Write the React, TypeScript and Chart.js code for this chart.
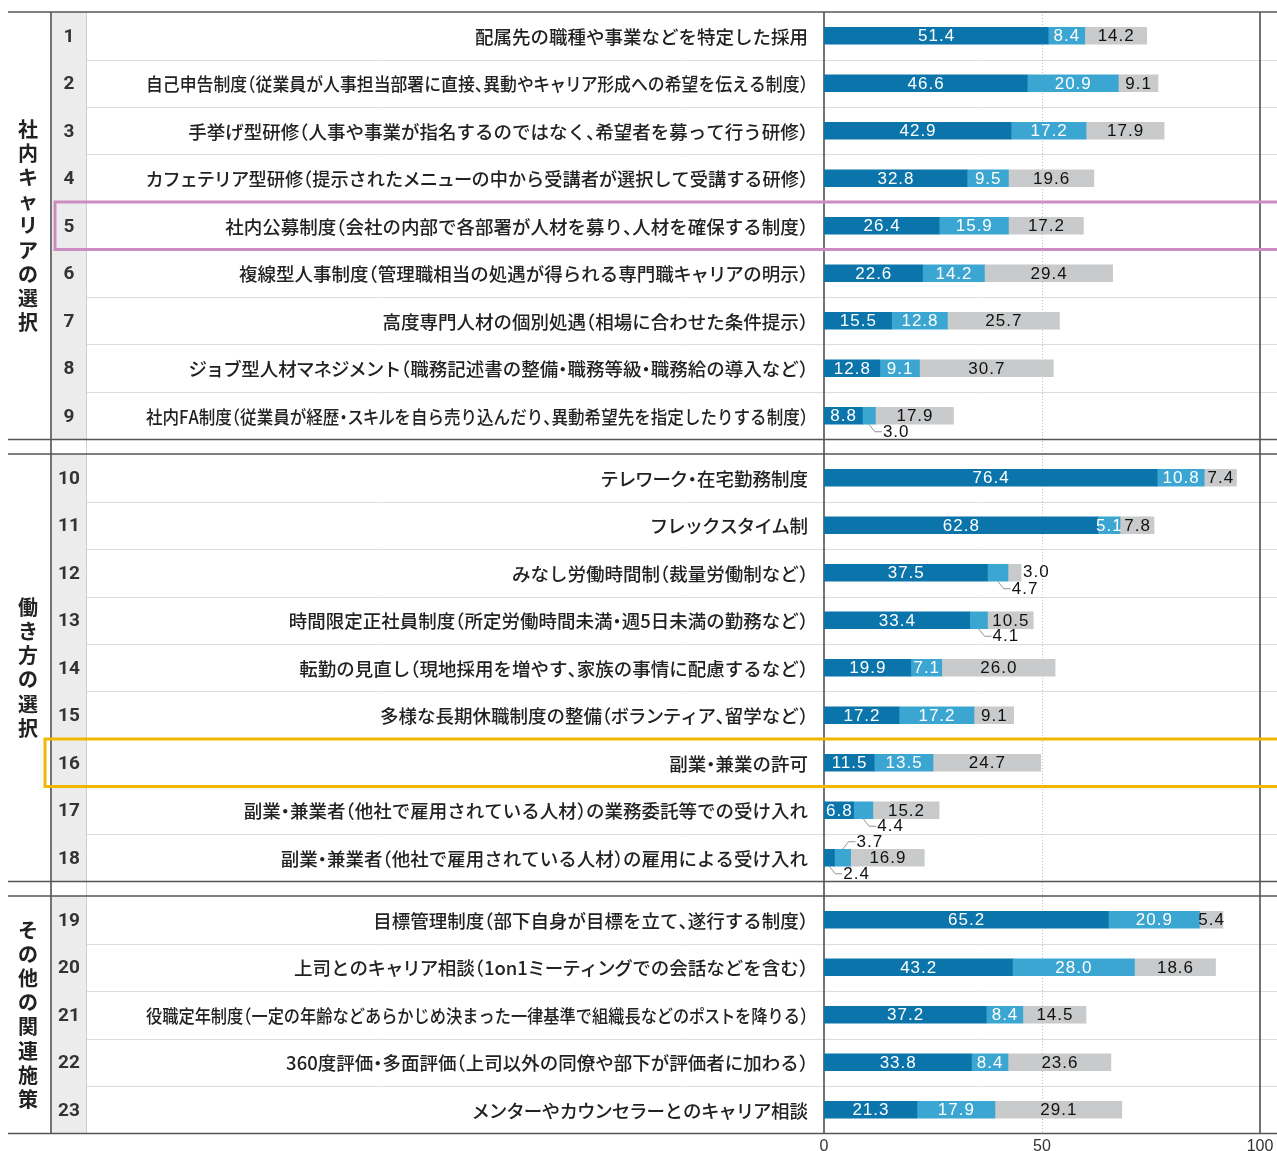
import React, { useEffect, useRef } from 'react';
import { Chart, registerables } from 'chart.js';

Chart.register(...registerables);

// ---------------- DATA ----------------
const groupNames = ['社内キャリアの選択', '働き方の選択', 'その他の関連施策'];
const groupSizes = [9, 9, 5];

const rowLabels = [
  '配属先の職種や事業などを特定した採用',
  '自己申告制度（従業員が人事担当部署に直接、異動やキャリア形成への希望を伝える制度）',
  '手挙げ型研修（人事や事業が指名するのではなく、希望者を募って行う研修）',
  'カフェテリア型研修（提示されたメニューの中から受講者が選択して受講する研修）',
  '社内公募制度（会社の内部で各部署が人材を募り、人材を確保する制度）',
  '複線型人事制度（管理職相当の処遇が得られる専門職キャリアの明示）',
  '高度専門人材の個別処遇（相場に合わせた条件提示）',
  'ジョブ型人材マネジメント（職務記述書の整備・職務等級・職務給の導入など）',
  '社内FA制度（従業員が経歴・スキルを自ら売り込んだり、異動希望先を指定したりする制度）',
  'テレワーク・在宅勤務制度',
  'フレックスタイム制',
  'みなし労働時間制（裁量労働制など）',
  '時間限定正社員制度（所定労働時間未満・週5日未満の勤務など）',
  '転勤の見直し（現地採用を増やす、家族の事情に配慮するなど）',
  '多様な長期休職制度の整備（ボランティア、留学など）',
  '副業・兼業の許可',
  '副業・兼業者（他社で雇用されている人材）の業務委託等での受け入れ',
  '副業・兼業者（他社で雇用されている人材）の雇用による受け入れ',
  '目標管理制度（部下自身が目標を立て、遂行する制度）',
  '上司とのキャリア相談（1on1ミーティングでの会話などを含む）',
  '役職定年制度（一定の年齢などあらかじめ決まった一律基準で組織長などのポストを降りる）',
  '360度評価・多面評価（上司以外の同僚や部下が評価者に加わる）',
  'メンターやカウンセラーとのキャリア相談',
];

const seriesDark = [51.4, 46.6, 42.9, 32.8, 26.4, 22.6, 15.5, 12.8, 8.8, 76.4, 62.8, 37.5, 33.4, 19.9, 17.2, 11.5, 6.8, 2.4, 65.2, 43.2, 37.2, 33.8, 21.3];
const seriesLight = [8.4, 20.9, 17.2, 9.5, 15.9, 14.2, 12.8, 9.1, 3.0, 10.8, 5.1, 4.7, 4.1, 7.1, 17.2, 13.5, 4.4, 3.7, 20.9, 28.0, 8.4, 8.4, 17.9];
const seriesGray = [14.2, 9.1, 17.9, 19.6, 17.2, 29.4, 25.7, 30.7, 17.9, 7.4, 7.8, 3.0, 10.5, 26.0, 9.1, 24.7, 15.2, 16.9, 5.4, 18.6, 14.5, 23.6, 29.1];

const xTicks = [0, 50, 100];

// labels of small segments drawn outside the bar (row number, series index, side)
const outsideLabels = [
  { row: 9, series: 1, side: 'below' },
  { row: 12, series: 1, side: 'below' },
  { row: 12, series: 2, side: 'right' },
  { row: 13, series: 1, side: 'below' },
  { row: 17, series: 1, side: 'below' },
  { row: 18, series: 0, side: 'below' },
  { row: 18, series: 1, side: 'above' },
];

const highlightRows = [5, 16];

// ---------------- LAYOUT / STYLE ----------------
const W = 1277;
const H = 1151;
const GROUP_GAP = 14.5 / 47.5; // extra gap between groups, in row units
const COLORS = ['#0b74aa', '#3ca6d2', '#c9cacb'];
const HIGHLIGHT = [
  { color: '#cd8cc1', left: 55 },
  { color: '#f2b705', left: 45 },
];

const rowGroup: number[] = [];
groupSizes.forEach((n, g) => {
  for (let k = 0; k < n; k++) rowGroup.push(g);
});
const rowPos = rowGroup.map((g, i) => i + g * GROUP_GAP);
const groupStart: number[] = [];
let acc = 0;
groupSizes.forEach((n) => {
  groupStart.push(acc);
  acc += n;
});

const LABEL_FONT = '"Noto Sans CJK JP", "Noto Sans", sans-serif';
const NUM_FONT = '"Liberation Sans", Arial, sans-serif';
const LABEL_SIZE = 18.5;
const LABEL_MAX_W = 662;
const KATA_FACTOR = 0.94;

// proportional (half-width) punctuation, like the print typesetting
const HALF_RIGHT = '（「';      // glyph sits in right half of the em box
const HALF_LEFT = '）」、。';   // glyph sits in left half
const HALF_MID = '・';          // glyph centred
const isKata = (ch: string) => /[\u30A1-\u30FA\u30FC]/.test(ch);

function drawLabel(ctx: CanvasRenderingContext2D, text: string, right: number, y: number) {
  const em = LABEL_SIZE;
  const chars = Array.from(text);
  const full = chars.map((ch) => ctx.measureText(ch).width);
  const adv = chars.map((ch, k) => {
    if (HALF_RIGHT.includes(ch) || HALF_LEFT.includes(ch) || HALF_MID.includes(ch)) return em * 0.5;
    if (isKata(ch)) return full[k] * KATA_FACTOR;
    return full[k];
  });
  const total = adv.reduce((a, b) => a + b, 0);
  const s = total > LABEL_MAX_W ? LABEL_MAX_W / total : 1;
  ctx.save();
  ctx.translate(right - total * s, y);
  ctx.scale(s, 1);
  ctx.textAlign = 'left';
  let x = 0;
  chars.forEach((ch, k) => {
    let off = 0;
    if (HALF_RIGHT.includes(ch)) off = -em * 0.5;
    else if (HALF_MID.includes(ch)) off = -em * 0.25;
    else if (isKata(ch)) off = -(full[k] - adv[k]) / 2;
    ctx.fillText(ch, x + off, 0);
    x += adv[k];
  });
  ctx.restore();
}

const tablePlugin = {
  id: 'tablePlugin',
  beforeDatasetsDraw(chart: any) {
    const ctx = chart.ctx;
    const xs = chart.scales.x;
    const ys = chart.scales.y;
    const area = chart.chartArea;
    const top = (i: number) => ys.getPixelForValue(rowPos[i] - 0.5);
    const bot = (i: number) => ys.getPixelForValue(rowPos[i] + 0.5);
    ctx.save();

    // number column background
    ctx.fillStyle = '#ececec';
    groupSizes.forEach((n, g) => {
      const s = groupStart[g];
      const e = s + n - 1;
      ctx.fillRect(52, top(s), 34, bot(e) - top(s));
    });

    // row separators
    ctx.strokeStyle = '#dcdcdc';
    ctx.lineWidth = 1;
    for (let i = 0; i < rowPos.length - 1; i++) {
      if (rowGroup[i] !== rowGroup[i + 1]) continue;
      const y = Math.round(bot(i)) + 0.5;
      ctx.beginPath();
      ctx.moveTo(86, y);
      ctx.lineTo(W, y);
      ctx.stroke();
    }

    // light line right of number column
    ctx.strokeStyle = '#cfcfcf';
    ctx.beginPath();
    ctx.moveTo(86.5, area.top);
    ctx.lineTo(86.5, area.bottom);
    ctx.stroke();

    // dotted mid line
    ctx.strokeStyle = '#bdbdbd';
    ctx.setLineDash([1, 2]);
    const x50 = Math.round(xs.getPixelForValue(50)) + 0.5;
    ctx.beginPath();
    ctx.moveTo(x50, area.top);
    ctx.lineTo(x50, area.bottom);
    ctx.stroke();
    ctx.setLineDash([]);

    // dark vertical lines
    ctx.strokeStyle = '#444';
    ctx.lineWidth = 1.5;
    [51, xs.getPixelForValue(0), xs.getPixelForValue(100)].forEach((x) => {
      ctx.beginPath();
      ctx.moveTo(x, area.top);
      ctx.lineTo(x, area.bottom);
      ctx.stroke();
    });

    // dark horizontal lines at group edges
    ctx.strokeStyle = '#555';
    ctx.lineWidth = 1.5;
    groupSizes.forEach((n, g) => {
      const s = groupStart[g];
      const e = s + n - 1;
      [top(s), bot(e)].forEach((y) => {
        ctx.beginPath();
        ctx.moveTo(8, y);
        ctx.lineTo(W, y);
        ctx.stroke();
      });
    });
    ctx.restore();
  },
  afterDatasetsDraw(chart: any) {
    const ctx = chart.ctx;
    const ys = chart.scales.y;
    const top = (i: number) => ys.getPixelForValue(rowPos[i] - 0.5);
    const bot = (i: number) => ys.getPixelForValue(rowPos[i] + 0.5);
    const mid = (i: number) => ys.getPixelForValue(rowPos[i]);
    ctx.save();

    // value labels
    ctx.font = `17px ${NUM_FONT}`;
    (ctx as any).letterSpacing = '1px';
    ctx.textBaseline = 'middle';
    chart.data.datasets.forEach((ds: any, d: number) => {
      const meta = chart.getDatasetMeta(d);
      meta.data.forEach((bar: any, i: number) => {
        const p = bar.getProps(['x', 'y', 'base', 'height'], true);
        const v = ds.data[i].x;
        const txt = v.toFixed(1);
        const cx = (p.x + p.base) / 2;
        const out = outsideLabels.find((o) => o.row === i + 1 && o.series === d);
        if (out) {
          ctx.fillStyle = '#111';
          ctx.textAlign = 'left';
          if (out.side === 'right') {
            ctx.fillText(txt, p.x + 2, p.y);
          } else {
            const sgn = out.side === 'below' ? 1 : -1;
            const edge = p.y + sgn * p.height / 2;
            const ly = edge + sgn * 7.5;
            ctx.strokeStyle = '#777';
            ctx.lineWidth = 0.8;
            ctx.beginPath();
            ctx.moveTo(cx, edge);
            ctx.lineTo(cx + 6, ly);
            ctx.lineTo(cx + 13, ly);
            ctx.stroke();
            ctx.fillText(txt, cx + 14, ly + 0.5);
          }
        } else {
          if (d === 0 && v < 5) return;
          ctx.fillStyle = d === 2 ? '#111' : '#ffffff';
          ctx.textAlign = 'center';
          ctx.fillText(txt, cx + 0.5, p.y + 1);
        }
      });
    });
    (ctx as any).letterSpacing = '0px';

    // row labels
    ctx.fillStyle = '#222';
    ctx.textBaseline = 'middle';
    ctx.font = `500 ${LABEL_SIZE}px ${LABEL_FONT}`;
    rowLabels.forEach((lab, i) => {
      drawLabel(ctx, lab, 808, mid(i) + 1);
    });

    // row numbers
    ctx.textAlign = 'center';
    ctx.font = `bold 19px Roboto, ${NUM_FONT}`;
    ctx.fillStyle = '#333';
    rowLabels.forEach((_, i) => {
      ctx.fillText(String(i + 1), 69, mid(i) + 1);
    });

    // group labels (vertical)
    ctx.font = `bold 20px ${LABEL_FONT}`;
    ctx.fillStyle = '#222';
    groupNames.forEach((name, g) => {
      const s = groupStart[g];
      const e = s + groupSizes[g] - 1;
      const cy = (mid(s) + mid(e)) / 2;
      const chars = Array.from(name);
      chars.forEach((ch, k) => {
        ctx.fillText(ch, 28, cy + (k - (chars.length - 1) / 2) * 24.2);
      });
    });

    // highlight boxes
    highlightRows.forEach((r, h) => {
      const i = r - 1;
      ctx.strokeStyle = HIGHLIGHT[h].color;
      ctx.lineWidth = 3;
      ctx.strokeRect(HIGHLIGHT[h].left, top(i), W + 10 - HIGHLIGHT[h].left, bot(i) - top(i));
    });
    ctx.restore();
  },
};

export default function App() {
  const ref = useRef<HTMLCanvasElement | null>(null);
  useEffect(() => {
    if (!ref.current) return;
    const mk = (vals: number[], color: string, label: string) => ({
      label,
      data: rowPos.map((y, i) => ({ x: vals[i], y })),
      backgroundColor: color,
      borderWidth: 0,
      barThickness: 17,
    });
    const chart = new Chart(ref.current, {
      type: 'bar',
      data: {
        datasets: [
          mk(seriesDark, COLORS[0], 'dark'),
          mk(seriesLight, COLORS[1], 'light'),
          mk(seriesGray, COLORS[2], 'gray'),
        ],
      } as any,
      options: {
        indexAxis: 'y',
        responsive: false,
        animation: false,
        devicePixelRatio: 1,
        layout: { padding: { left: 824, right: 17, top: 12, bottom: 0 } },
        plugins: { legend: { display: false }, tooltip: { enabled: false } },
        scales: {
          x: {
            type: 'linear',
            position: 'bottom',
            stacked: true,
            min: 0,
            max: 100,
            offset: false,
            afterBuildTicks: (s: any) => {
              s.ticks = xTicks.map((v) => ({ value: v }));
            },
            afterFit: (s: any) => {
              s.height = 17.5;
            },
            ticks: {
              font: { family: NUM_FONT, size: 16 },
              color: '#333',
              padding: 3,
              autoSkip: false,
              maxRotation: 0,
            },
            grid: { display: false, drawTicks: false, offset: false },
            border: { display: false },
          },
          y: {
            type: 'linear',
            stacked: true,
            reverse: true,
            offset: false,
            min: -0.5,
            max: rowPos[rowPos.length - 1] + 0.5,
            display: false,
            grid: { offset: false },
          },
        },
      } as any,
      plugins: [tablePlugin],
    });
    return () => chart.destroy();
  }, []);
  return (
    <div style={{ position: 'absolute', left: 0, top: 0, width: W, height: H, overflow: 'hidden', background: '#fff' }}>
      <canvas ref={ref} width={W} height={H} style={{ display: 'block' }} />
    </div>
  );
}
